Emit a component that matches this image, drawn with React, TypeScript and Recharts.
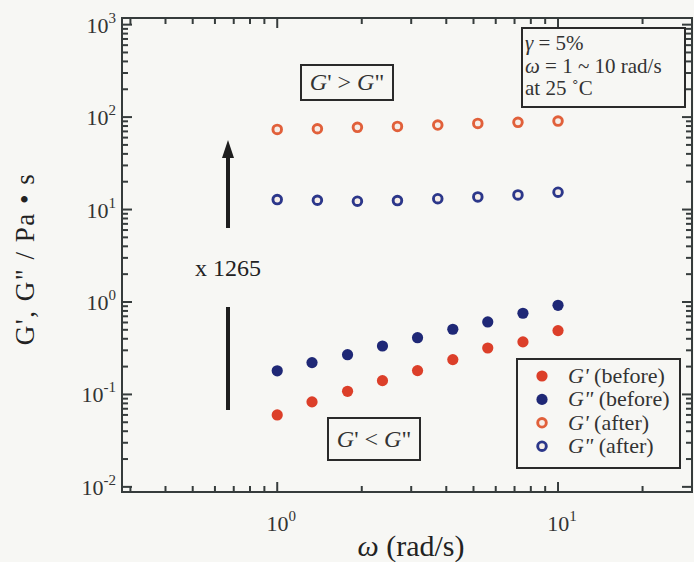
import { Scatter, ScatterChart, XAxis, YAxis } from 'recharts';

// angular frequency (rad/s) and moduli (Pa·s)
const freqBefore = [1, 1.33, 1.78, 2.37, 3.16, 4.22, 5.62, 7.5, 10];
const gPrimeBefore = [0.06, 0.083, 0.108, 0.141, 0.181, 0.238, 0.318, 0.37, 0.49];
const gDoubleBefore = [0.18, 0.221, 0.269, 0.334, 0.411, 0.507, 0.608, 0.755, 0.921];

const freqAfter = [1, 1.39, 1.93, 2.68, 3.73, 5.18, 7.2, 10];
const gPrimeAfter = [73.6, 74.8, 77.4, 79.3, 82, 85.5, 87.7, 90.5];
const gDoubleAfter = [12.8, 12.6, 12.3, 12.5, 13.1, 13.7, 14.4, 15.4];

const xMajor = [1, 10];
const xMinor = [0.3, 0.4, 0.5, 0.6, 0.7, 0.8, 0.9, 2, 3, 4, 5, 6, 7, 8, 9, 20];
const yMajor = [0.01, 0.1, 1, 10, 100, 1000];
const yMinorSteps = [2, 3, 4, 5, 6, 7, 8, 9];

const X_DOMAIN: [number, number] = [0.28, 30];
const Y_DOMAIN: [number, number] = [0.0088, 1180];

const W = 694;
const H = 562;
const PLOT = { left: 122, right: 692, top: 18, bottom: 492 };
const AXIS = '#363c3c';
const FONT = '"Liberation Serif", "Times New Roman", serif';
const BG = '#f7f7f4';

const RED = '#dc3f29';
const NAVY = '#1f2876';
const ORANGE = '#e1603a';
const BLUE = '#2c378a';

const yMinor = yMajor
  .slice(0, -1)
  .flatMap((d) => yMinorSteps.map((m) => Number((m * d).toPrecision(3))));

const toPoints = (xs: number[], ys: number[]) => xs.map((x, i) => ({ x, y: ys[i] }));

const seriesList = [
  { key: 'gpb', label: '(before)', prime: "G'", data: toPoints(freqBefore, gPrimeBefore), color: RED, open: false },
  { key: 'gdb', label: '(before)', prime: 'G"', data: toPoints(freqBefore, gDoubleBefore), color: NAVY, open: false },
  { key: 'gpa', label: '(after)', prime: "G'", data: toPoints(freqAfter, gPrimeAfter), color: ORANGE, open: true },
  { key: 'gda', label: '(after)', prime: 'G"', data: toPoints(freqAfter, gDoubleAfter), color: BLUE, open: true },
];

const exponent = (v: number) => {
  const e = Math.round(Math.log10(v));
  return e < 0 ? `-${Math.abs(e)}` : `${e}`;
};

const Marker = ({ cx, cy, color, open }: any) => {
  if (cx == null || cy == null) return null;
  return open ? (
    <circle cx={cx} cy={cy} r={4.3} fill="#f6eee8" stroke={color} strokeWidth={2.9} />
  ) : (
    <circle cx={cx} cy={cy} r={5.6} fill={color} />
  );
};

const XTick = (props: any) => {
  const { x, payload } = props;
  const v = payload.value;
  const major = xMajor.includes(v);
  const len = major ? 10 : 6;
  return (
    <g>
      <line x1={x} x2={x} y1={PLOT.bottom} y2={PLOT.bottom - len} stroke={AXIS} strokeWidth={2} />
      <line x1={x} x2={x} y1={PLOT.top} y2={PLOT.top + len} stroke={AXIS} strokeWidth={2} />
      {major && (
        <text x={x + 4} y={531} textAnchor="middle" fontFamily={FONT} fontSize={22} fill="#333">
          10
          <tspan dy={-10} fontSize={15}>
            {exponent(v)}
          </tspan>
        </text>
      )}
    </g>
  );
};

const YTick = (props: any) => {
  const { y, payload } = props;
  const v = payload.value;
  const major = yMajor.includes(v);
  const len = major ? 10 : 6;
  return (
    <g>
      <line x1={PLOT.left} x2={PLOT.left + len} y1={y} y2={y} stroke={AXIS} strokeWidth={2} />
      <line x1={PLOT.right} x2={PLOT.right - len} y1={y} y2={y} stroke={AXIS} strokeWidth={2} />
      {major && (
        <text x={116} y={y + 8} textAnchor="end" fontFamily={FONT} fontSize={22} fill="#333">
          10
          <tspan dy={-10} fontSize={15}>
            {exponent(v)}
          </tspan>
        </text>
      )}
    </g>
  );
};

const Overlay = () => (
  <svg
    width={W}
    height={H}
    style={{ position: 'absolute', left: 0, top: 0, pointerEvents: 'none' }}
    fontFamily={FONT}
  >
    <rect
      x={PLOT.left}
      y={PLOT.top}
      width={PLOT.right - PLOT.left}
      height={PLOT.bottom - PLOT.top}
      fill="none"
      stroke={AXIS}
      strokeWidth={2}
    />

    {/* axis titles */}
    <text x={411} y={556} textAnchor="middle" fontSize={30} fill="#222">
      <tspan fontStyle="italic">ω</tspan> (rad/s)
    </text>
    <text
      transform="translate(34, 259) rotate(-90)"
      textAnchor="middle"
      fontSize={27}
      fill="#222"
      letterSpacing={1.5}
    >
      G', G" / Pa • s
    </text>

    {/* increase arrow */}
    <line x1={228} x2={228} y1={155} y2={228} stroke="#1e1e1e" strokeWidth={4} />
    <polygon points="228,140 222,158 234,158" fill="#1e1e1e" />
    <line x1={228} x2={228} y1={307} y2={410} stroke="#1e1e1e" strokeWidth={4} />
    <text x={228} y={276} textAnchor="middle" fontSize={24} fill="#222">
      x 1265
    </text>

    {/* regime boxes */}
    <rect x={301} y={65} width={92} height={35} fill="none" stroke="#2a2a2a" strokeWidth={2} />
    <text x={347} y={90} textAnchor="middle" fontSize={24} fill="#333">
      <tspan fontStyle="italic">G</tspan>' &gt; <tspan fontStyle="italic">G</tspan>"
    </text>
    <rect x={328} y={418} width={92} height={42} fill="none" stroke="#2a2a2a" strokeWidth={2} />
    <text x={374} y={447} textAnchor="middle" fontSize={24} fill="#333">
      <tspan fontStyle="italic">G</tspan>' &lt; <tspan fontStyle="italic">G</tspan>"
    </text>

    {/* test conditions */}
    <rect x={522} y={28} width={163} height={79} fill={BG} stroke="#2a2a2a" strokeWidth={2} />
    <g fontSize={21} fill="#333">
      <text x={525} y={50}>
        <tspan fontStyle="italic">γ</tspan> = 5%
      </text>
      <text x={525} y={73}>
        <tspan fontStyle="italic">ω</tspan>  = 1 ~ 10 rad/s
      </text>
      <text x={525} y={95}>at 25 ˚C</text>
    </g>

    {/* legend */}
    <rect x={517} y={359} width={163} height={109} fill={BG} stroke="#2a2a2a" strokeWidth={2} />
    {seriesList.map((s, i) => {
      const cy = 376 + i * 23.4;
      return (
        <g key={s.key}>
          <Marker cx={542} cy={cy} color={s.color} open={s.open} />
          <text x={568} y={cy + 7} fontSize={22} fill="#333">
            <tspan fontStyle="italic">{s.prime}</tspan> {s.label}
          </text>
        </g>
      );
    })}
  </svg>
);

export default function App() {
  return (
    <div style={{ position: 'absolute', left: 0, top: 0, width: W, height: H, background: BG }}>
      <ScatterChart width={W} height={H} margin={{ top: PLOT.top, right: W - PLOT.right, bottom: 0, left: 0 }}>
        <XAxis
          type="number"
          dataKey="x"
          scale="log"
          domain={X_DOMAIN}
          allowDataOverflow
          ticks={[...xMinor, ...xMajor].sort((a, b) => a - b)}
          interval={0}
          height={H - PLOT.bottom}
          axisLine={false}
          tickLine={false}
          tick={<XTick />}
        />
        <YAxis
          type="number"
          dataKey="y"
          scale="log"
          domain={Y_DOMAIN}
          allowDataOverflow
          ticks={[...yMinor, ...yMajor].sort((a, b) => a - b)}
          interval={0}
          width={PLOT.left}
          axisLine={false}
          tickLine={false}
          tick={<YTick />}
        />
        {seriesList.map((s) => (
          <Scatter
            key={s.key}
            name={s.key}
            data={s.data}
            isAnimationActive={false}
            shape={(p: any) => <Marker cx={p.cx} cy={p.cy} color={s.color} open={s.open} />}
          />
        ))}
      </ScatterChart>
      <Overlay />
    </div>
  );
}
